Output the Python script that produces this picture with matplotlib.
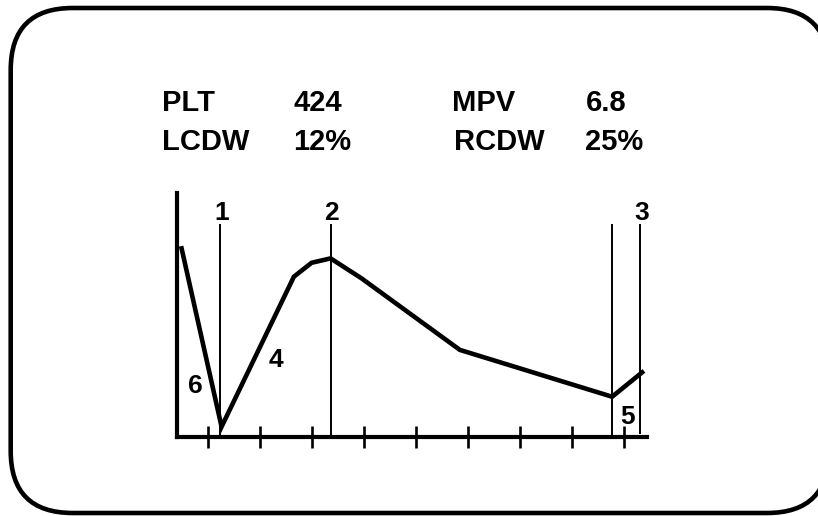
import matplotlib
matplotlib.use("Agg")
import matplotlib.pyplot as plt
from matplotlib.patches import FancyBboxPatch

plt.rcParams['font.family'] = ['Liberation Sans', 'DejaVu Sans']

# header values
header_names = ["PLT", "MPV", "LCDW", "RCDW"]
header_values = ["424", "6.8", "12%", "25%"]

# platelet histogram curve (x in tick units, y in % of axis height)
curve_x = [0.494, 1.263, 2.654, 2.994, 3.36, 3.956, 5.846, 8.775, 9.352]
curve_y = [77.3, 4.2, 65.7, 71.4, 73.2, 65.0, 35.7, 16.5, 26.5]

# vertical discriminator lines
line_x = [1.237, 3.36, 8.775, 9.32]
line_bottom = [0, 0, 0, 1.6]
line_top = 86.9
line_labels = ["1", "2", "", "3"]

# region labels
region_labels = ["4", "5", "6"]
region_x = [2.31, 9.08, 0.75]
region_y = [31.6, 8.2, 20.9]

tick_pos = [1, 2, 3, 4, 5, 6, 7, 8, 9]

W, H = 818, 516
fig = plt.figure(figsize=(W / 100, H / 100), dpi=100)

# background axes in pixel coords for the frame and header text
bg = fig.add_axes([0, 0, 1, 1])
bg.set_xlim(0, W)
bg.set_ylim(H, 0)
bg.axis('off')
frame = FancyBboxPatch((10.7, 8), 818.3, 505,
                       boxstyle="round,pad=0,rounding_size=62",
                       fc='white', ec='black', lw=3.3)
bg.add_patch(frame)

fs = 21
col_x = [161.5, 293.5, 451.5, 585.5]
row_y = [110.7, 150.0]
bg.text(col_x[0], row_y[0], header_names[0], fontsize=fs, fontweight='bold', va='baseline')
bg.text(col_x[1], row_y[0], header_values[0], fontsize=fs, fontweight='bold', va='baseline')
bg.text(col_x[2], row_y[0], header_names[1], fontsize=fs, fontweight='bold', va='baseline')
bg.text(col_x[3], row_y[0], header_values[1], fontsize=fs, fontweight='bold', va='baseline')
bg.text(col_x[0], row_y[1], header_names[2], fontsize=fs, fontweight='bold', va='baseline')
bg.text(col_x[1], row_y[1], header_values[2], fontsize=fs, fontweight='bold', va='baseline')
bg.text(col_x[2] + 3, row_y[1], header_names[3], fontsize=fs, fontweight='bold', va='baseline')
bg.text(col_x[3], row_y[1], header_values[3], fontsize=fs, fontweight='bold', va='baseline')

# histogram axes
ax = fig.add_axes([176.7 / W, (H - 437) / H, 470 / W, 244 / H])
ax.set_xlim(0.4, 9.44)
ax.set_ylim(0, 100)
ax.patch.set_alpha(0)
for s in ['top', 'right']:
    ax.spines[s].set_visible(False)
for s in ['left', 'bottom']:
    ax.spines[s].set_linewidth(3.0)
    ax.spines[s].set_capstyle('projecting')

ax.set_xticks(tick_pos)
ax.set_xticklabels([])
ax.set_yticks([])
ax.tick_params(axis='x', direction='inout', length=16, width=1.9, color='black')

ax.plot(curve_x, curve_y, color='black', lw=3.3, solid_joinstyle='miter', clip_on=False)

for i in range(len(line_x)):
    ax.plot([line_x[i], line_x[i]], [line_bottom[i], line_top], color='black', lw=1.4, clip_on=False)
    if line_labels[i]:
        ax.text(line_x[i] + 0.02, 91.6, line_labels[i], fontsize=19, fontweight='bold',
                ha='center', va='center')

for i in range(len(region_labels)):
    ax.text(region_x[i], region_y[i], region_labels[i], fontsize=19, fontweight='bold',
            ha='center', va='center')

fig.savefig('out.png', dpi=100)
